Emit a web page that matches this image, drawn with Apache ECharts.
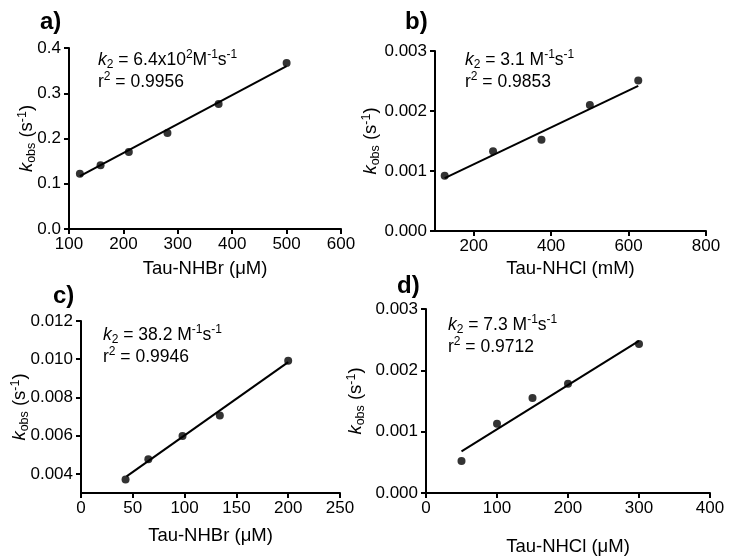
<!DOCTYPE html>
<html><head><meta charset="utf-8">
<script src="https://cdn.jsdelivr.net/npm/echarts@6/dist/echarts.min.js"></script>
<style>html,body{margin:0;padding:0;background:#fff}#c{width:730px;height:557px}</style>
</head><body><div id="c"></div>
<script>
// Panel a
const aX = [120, 158, 210, 281, 375, 500];
const aY = [0.122, 0.141, 0.170, 0.212, 0.276, 0.367];
const aFitX = [120, 500];
const aFitY = [0.117, 0.360];
// Panel b
const bX = [125, 250, 375, 500, 625];
const bY = [0.00092, 0.00133, 0.00152, 0.00210, 0.00251];
const bFitX = [125, 625];
const bFitY = [0.00088, 0.00242];
// Panel c
const cX = [43, 65, 98, 134, 200];
const cY = [0.00370, 0.00476, 0.00598, 0.00706, 0.00992];
const cFitX = [44, 200];
const cFitY = [0.00387, 0.00985];
// Panel d
const dX = [50, 100, 150, 200, 300];
const dY = [0.00052, 0.00113, 0.00155, 0.00178, 0.00243];
const dFitX = [50, 300];
const dFitY = [0.00068, 0.00248];
// Tick labels
const bXTicks = [200, 400, 600, 800];
const cYTicks = [0.004, 0.006, 0.008, 0.010, 0.012];
// Texts
const panelLabels = ['a)', 'b)', 'c)', 'd)'];
const xTitles = ['Tau-NHBr (\u03bcM)', 'Tau-NHCl (mM)', 'Tau-NHBr (\u03bcM)', 'Tau-NHCl (\u03bcM)'];
const k2Texts = ['6.4x10', '3.1 ', '38.2 ', '7.3 '];
const k2Exp = ['2', '', '', ''];
const r2Texts = ['0.9956', '0.9853', '0.9946', '0.9712'];

const FONT = 'Liberation Sans, Arial, sans-serif';
const zip = (xs, ys) => xs.map((x, i) => [x, ys[i]]);

const grids = [
  {left: 69, top: 48, width: 272, height: 181},
  {left: 435, top: 51, width: 271, height: 180},
  {left: 81, top: 321, width: 259, height: 172},
  {left: 426, top: 309, width: 284, height: 190}
];

function rich(fs, sfs) {
  return {
    n: {fontSize: fs, fontFamily: FONT, color: '#000', lineHeight: 22},
    k: {fontSize: fs, fontFamily: FONT, color: '#000', fontStyle: 'italic', lineHeight: 22},
    sub: {fontSize: sfs, fontFamily: FONT, color: '#000', verticalAlign: 'bottom', lineHeight: 22},
    sup: {fontSize: sfs, fontFamily: FONT, color: '#000', verticalAlign: 'top', lineHeight: 22}
  };
}
const annRich = rich(17.5, 12);
const yTitleRich = rich(18.5, 12.5);

function axisCommon() {
  return {
    axisLine: {show: true, onZero: false, lineStyle: {color: '#000', width: 2}},
    axisTick: {show: true, inside: false, length: 5, lineStyle: {color: '#000', width: 2}},
    splitLine: {show: false},
    axisLabel: {color: '#000', fontSize: 17, fontFamily: FONT, margin: 7}
  };
}

function xAxis(i, min, max, interval, titleGap, extra) {
  const a = axisCommon();
  Object.assign(a, {
    type: 'value', gridIndex: i, min, max, interval,
    name: xTitles[i], nameLocation: 'middle', nameGap: titleGap, nameMoveOverlap: false,
    nameTextStyle: {color: '#000', fontSize: 18.5, fontFamily: FONT}
  });
  a.axisLabel.formatter = v => String(Math.round(v));
  if (extra) extra(a);
  return a;
}
function yAxis(i, min, max, interval, dec, gap, extra) {
  const a = axisCommon();
  Object.assign(a, {
    type: 'value', gridIndex: i, min, max, interval,
    name: '{k|k}{sub|obs}{n| (s}{sup|-1}{n|)}', nameLocation: 'middle', nameGap: gap, nameRotate: 90,
    nameMoveOverlap: false,
    nameTextStyle: {rich: yTitleRich}
  });
  a.axisLabel.margin = 8;
  a.axisLabel.formatter = v => v.toFixed(dec);
  if (extra) extra(a);
  return a;
}

const xAxes = [
  xAxis(0, 100, 600, 100, 30),
  xAxis(1, 100, 800, 200, 28, a => {
    a.axisLabel.customValues = bXTicks; a.axisTick.customValues = bXTicks;
  }),
  xAxis(2, 0, 250, 50, 33),
  xAxis(3, 0, 400, 100, 44)
];
const yAxes = [
  yAxis(0, 0, 0.4, 0.1, 1, 31),
  yAxis(1, 0, 0.003, 0.001, 3, 53),
  yAxis(2, 0.003, 0.012, 0.001, 3, 50, a => {
    a.axisLabel.customValues = cYTicks; a.axisTick.customValues = cYTicks;
  }),
  yAxis(3, 0, 0.003, 0.001, 3, 59)
];

const pts = [zip(aX, aY), zip(bX, bY), zip(cX, cY), zip(dX, dY)];
const fits = [zip(aFitX, aFitY), zip(bFitX, bFitY), zip(cFitX, cFitY), zip(dFitX, dFitY)];
const series = [];
for (let i = 0; i < 4; i++) {
  series.push({type: 'line', xAxisIndex: i, yAxisIndex: i, data: fits[i], symbol: 'none',
    lineStyle: {color: '#000', width: 2}, silent: true, animation: false});
  series.push({type: 'scatter', xAxisIndex: i, yAxisIndex: i, data: pts[i], symbol: 'circle', symbolSize: 8,
    itemStyle: {color: '#000'}, animation: false});
}

const labelPos = [[40, 10], [405, 10], [53, 284], [397, 274]];
const annPos = [[98, 49], [465, 49], [103, 324], [448, 314]];
const graphic = [];
for (let i = 0; i < 4; i++) {
  graphic.push({type: 'text', left: labelPos[i][0], top: labelPos[i][1],
    style: {text: panelLabels[i], font: 'bold 24px ' + FONT, fill: '#000'}});
  const line1 = '{k|k}{sub|2}{n| = ' + k2Texts[i] + '}' + (k2Exp[i] ? '{sup|' + k2Exp[i] + '}' : '') +
    '{n|M}{sup|-1}{n|s}{sup|-1}';
  const line2 = '{n|r}{sup|2}{n| = ' + r2Texts[i] + '}';
  graphic.push({type: 'text', left: annPos[i][0], top: annPos[i][1],
    style: {text: line1 + '\n' + line2, rich: annRich, fill: '#000'}});
}

const chart = echarts.init(document.getElementById('c'), null, {renderer: 'canvas'});
chart.setOption({
  animation: false,
  backgroundColor: '#fff',
  grid: grids,
  xAxis: xAxes,
  yAxis: yAxes,
  series,
  graphic
});
</script></body></html>
